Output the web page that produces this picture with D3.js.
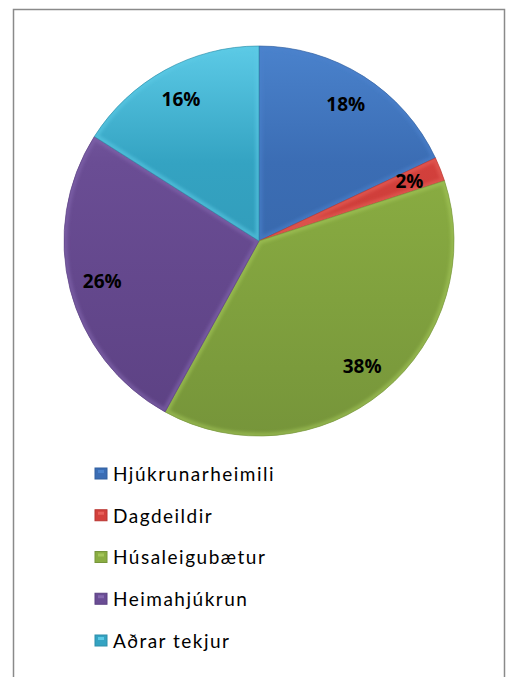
<!DOCTYPE html>
<html>
<head>
<meta charset="utf-8">
<script src="https://cdn.jsdelivr.net/npm/d3@7"></script>
<style>
  html, body { margin: 0; padding: 0; background: #fff; }
  svg { display: block; }
</style>
</head>
<body>
<svg id="chart" width="510" height="677"></svg>
<script>
// Revenue shares by category
const categories = ["Hjúkrunarheimili", "Dagdeildir", "Húsaleigubætur", "Heimahjúkrun", "Aðrar tekjur"];
const shares = [18, 2, 38, 26, 16];
const baseColors = ["#3b6db4", "#d3403c", "#8aad42", "#6a4d94", "#34a3c2"];
const lightColors = ["#4a82cc", "#e8605a", "#a4c65a", "#8468ae", "#5ccae6"];
const darkColors = ["#33609f", "#b83531", "#76953a", "#5c4183", "#2e8ea9"];

const svg = d3.select("#chart");
const cx = 259, cy = 241, R = 195;

// outer frame
svg.append("rect")
  .attr("x", 13.5).attr("y", 9.5)
  .attr("width", 491).attr("height", 700)
  .attr("fill", "#fff")
  .attr("stroke", "#8a8a8a")
  .attr("stroke-width", 1.5);

const defs = svg.append("defs");

const data = categories.map((c, i) => ({ name: c, value: shares[i], i }));
const pie = d3.pie().sort(null).value(d => d.value);
const arcs = pie(data);
const arc = d3.arc().innerRadius(0).outerRadius(R);
const labelArc = d3.arc().innerRadius(R * 0.83).outerRadius(R * 0.83);

// vertical shading per slice
data.forEach(d => {
  const g = defs.append("linearGradient")
    .attr("id", "grad" + d.i)
    .attr("gradientUnits", "userSpaceOnUse")
    .attr("x1", 0).attr("y1", -R).attr("x2", 0).attr("y2", R);
  g.append("stop").attr("offset", "0%").attr("stop-color", lightColors[d.i]);
  g.append("stop").attr("offset", "30%").attr("stop-color", baseColors[d.i]);
  g.append("stop").attr("offset", "100%").attr("stop-color", darkColors[d.i]);
});

const blur = defs.append("filter").attr("id", "soft")
  .attr("x", "-10%").attr("y", "-10%").attr("width", "120%").attr("height", "120%");
blur.append("feGaussianBlur").attr("stdDeviation", 1.6);

const pieG = svg.append("g").attr("transform", `translate(${cx},${cy})`);

arcs.forEach(a => {
  defs.append("clipPath").attr("id", "clip" + a.data.i)
    .append("path").attr("d", arc(a));
});

const slices = pieG.selectAll("g.slice").data(arcs).join("g").attr("class", "slice");

slices.append("path")
  .attr("d", arc)
  .attr("fill", d => `url(#grad${d.data.i})`);

// soft bevelled rim inside each slice
slices.append("path")
  .attr("d", arc)
  .attr("clip-path", d => `url(#clip${d.data.i})`)
  .attr("fill", "none")
  .attr("stroke", d => lightColors[d.data.i])
  .attr("stroke-width", 7)
  .attr("stroke-opacity", 0.55)
  .attr("filter", "url(#soft)");

slices.append("path")
  .attr("d", arc)
  .attr("fill", "none")
  .attr("stroke", d => darkColors[d.data.i])
  .attr("stroke-width", 0.8)
  .attr("stroke-opacity", 0.8);

// percentage labels
pieG.selectAll("text.pct").data(arcs).join("text")
  .attr("class", "pct")
  .attr("transform", d => `translate(${labelArc.centroid(d)})`)
  .attr("text-anchor", "middle")
  .attr("dy", "0.36em")
  .attr("font-family", "'Open Sans', Lato, sans-serif")
  .attr("font-weight", "bold")
  .attr("font-size", 19)
  .attr("fill", "#000")
  .text(d => d.data.value + "%");

// legend
const legY = d3.scalePoint().domain(categories).range([474, 641]);
const leg = svg.append("g").selectAll("g").data(data).join("g")
  .attr("transform", d => `translate(95,${legY(d.name)})`);

leg.append("rect")
  .attr("x", 0).attr("y", -6)
  .attr("width", 12).attr("height", 11)
  .attr("fill", d => baseColors[d.i])
  .attr("stroke", d => darkColors[d.i])
  .attr("stroke-width", 1);

leg.append("rect")
  .attr("x", 3).attr("y", -4)
  .attr("width", 6).attr("height", 3)
  .attr("fill", d => lightColors[d.i]);

leg.append("text")
  .attr("x", 18).attr("y", 0)
  .attr("dy", "0.36em")
  .attr("font-family", "Lato, 'Open Sans', sans-serif")
  .attr("font-size", 19)
  .attr("letter-spacing", 1.5)
  .attr("fill", "#000")
  .text(d => d.name);
</script>
</body>
</html>
